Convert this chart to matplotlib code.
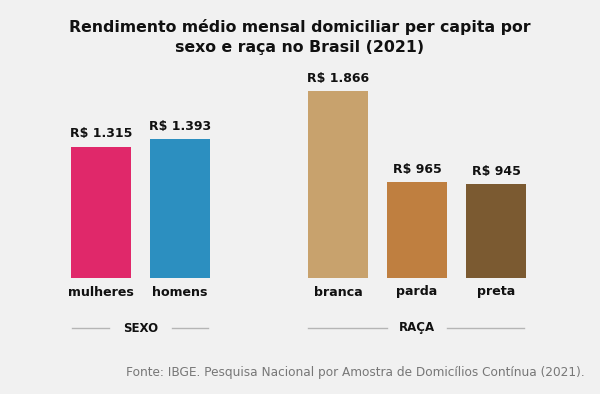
import matplotlib
matplotlib.use("Agg")
import matplotlib.pyplot as plt

categories = ["mulheres", "homens", "branca", "parda", "preta"]
values = [1315, 1393, 1866, 965, 945]
value_labels = ["R$ 1.315", "R$ 1.393", "R$ 1.866", "R$ 965", "R$ 945"]
groups = ["SEXO", "RAÇA"]
positions = [0, 1, 3, 4, 5]
colors = ["#e0286a", "#2c8fc0", "#c8a26d", "#bf7f40", "#7b5a31"]

plt.rcParams['font.family'] = ['DejaVu Sans']
bg = "#f1f1f1"
fig = plt.figure(figsize=(6.0, 3.94), dpi=100, facecolor=bg)
ax = fig.add_axes([0, 0, 1, 1])
ax.set_facecolor(bg)
ax.set_xlim(-101/79, (600-101)/79)
ax.set_ylim(-1160, 2780)
ax.axis("off")

ax.bar(positions, values, width=0.76, color=colors)
for p, v, lab, cat in zip(positions, values, value_labels, categories):
    ax.text(p, v + 60, lab, ha="center", va="bottom", fontsize=9, fontweight="bold", color="#111111")
    ax.text(p, -140, cat, ha="center", va="center", fontsize=9.1, fontweight="bold", color="#111111")

# group labels with side lines
def group(label, center, left, right, half):
    ax.text(center, -500, label, ha="center", va="center", fontsize=8.5, fontweight="bold", color="#111111")
    ax.plot([left, center - half], [-500, -500], color="#b5b5b5", lw=1)
    ax.plot([center + half, right], [-500, -500], color="#b5b5b5", lw=1)

group(groups[0], 0.5, -0.37, 1.36, 0.4)
group(groups[1], 4.0, 2.62, 5.35, 0.38)

fig.text(0.5, 0.952, "Rendimento médio mensal domiciliar per capita por\nsexo e raça no Brasil (2021)",
         ha="center", va="top", fontsize=11.3, fontweight="bold", color="#111111", linespacing=1.45)
fig.text(0.975, 0.055, "Fonte: IBGE. Pesquisa Nacional por Amostra de Domicílios Contínua (2021).",
         ha="right", va="center", fontsize=8.7, color="#777777")

fig.savefig("out.png", dpi=100, facecolor=bg)
